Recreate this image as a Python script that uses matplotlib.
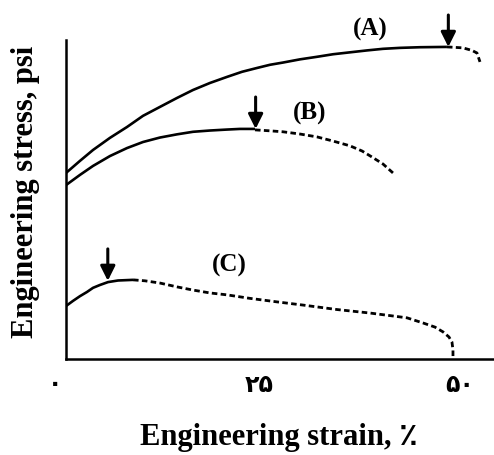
import matplotlib
matplotlib.use('Agg')
from matplotlib import pyplot as plt

# strain (%) / stress (relative units)
a_solid_x = [0, 1.81, 3.49, 5.68, 7.88, 9.95, 12.14, 14.34, 16.41, 18.60, 20.80, 22.74,
             24.68, 26.36, 28.04, 30.23, 32.43, 34.50, 36.69, 38.89, 40.96, 43.15, 45.74, 49.22]
a_solid_y = [58.3, 62.1, 65.5, 69.3, 72.7, 76.2, 79.0, 81.8, 84.3, 86.5, 88.4, 90.0,
             91.2, 92.2, 92.9, 93.9, 94.7, 95.5, 96.1, 96.7, 97.2, 97.5, 97.7, 97.8]
a_dash_x = [49.22, 51.29, 52.45, 53.10, 53.49]
a_dash_y = [97.8, 97.5, 96.7, 95.9, 93.1]

b_solid_x = [0, 1.81, 3.49, 5.68, 7.88, 9.95, 12.14, 14.34, 16.41, 18.60, 20.80, 22.48, 24.42]
b_solid_y = [54.5, 57.7, 60.5, 63.6, 66.1, 68.0, 69.4, 70.4, 71.2, 71.6, 71.9, 72.1, 72.1]
b_dash_x = [24.42, 26.36, 28.04, 30.23, 32.43, 34.50, 36.69, 38.24, 39.53, 40.96, 42.25]
b_dash_y = [71.8, 71.5, 71.2, 70.5, 69.6, 68.3, 66.8, 65.2, 63.3, 61.1, 58.3]

c_solid_x = [0, 0.90, 1.81, 2.71, 3.49, 4.39, 5.43, 6.72, 8.66]
c_solid_y = [16.6, 18.2, 19.7, 21.0, 22.3, 23.2, 24.1, 24.6, 24.8]
c_dash_x = [8.66, 10.21, 12.14, 14.34, 16.41, 18.60, 20.80, 23.77, 27.26, 30.62, 35.01,
            39.28, 41.86, 44.06, 46.12, 47.67, 48.71, 49.48, 49.87, 50.0, 50.0]
c_dash_y = [24.8, 24.5, 23.8, 22.6, 21.6, 20.7, 20.1, 19.0, 17.9, 16.9, 15.5,
            14.4, 13.6, 12.9, 11.3, 10.0, 8.5, 6.9, 5.3, 2.8, 0.3]

# necking onset arrows (x, y of tip)
arrow_x = [49.4, 24.5, 5.4]
arrow_y = [97.8, 72.1, 24.5]

curve_names = ['(A)', '(B)', '(C)']
name_x = [39.3, 31.5, 21.1]
name_y = [103.4, 77.1, 29.2]

tick_vals = [0, 25, 50]
tick_text = ['۰', '۲۵', '۵۰']
tick_shift = [-11, 0, 7]

serif = ['Liberation Serif', 'DejaVu Sans']

fig = plt.figure(figsize=(4.94, 4.55), dpi=100)
ax = fig.add_axes([66 / 494, 96 / 455, 1 - 66 / 494, 359 / 455])
ax.set_xlim(0, 55.3)
ax.set_ylim(0, 112.5)

for sx, sy, dx, dy in [(a_solid_x, a_solid_y, a_dash_x, a_dash_y),
                       (b_solid_x, b_solid_y, b_dash_x, b_dash_y),
                       (c_solid_x, c_solid_y, c_dash_x, c_dash_y)]:
    ax.plot(sx, sy, color='black', lw=1.9, solid_capstyle='butt', solid_joinstyle='round')
    ax.plot(dx, dy, color='black', lw=2.0, linestyle=(0, (2.0, 1.2)))

for x, y in zip(arrow_x, arrow_y):
    ax.annotate('', xy=(x, y), xytext=(x, y + 10),
                arrowprops=dict(arrowstyle='-|>', color='black', lw=2.2,
                                mutation_scale=22, shrinkA=0, shrinkB=0))

for name, x, y in zip(curve_names, name_x, name_y):
    ax.text(x, y, name, ha='center', va='center', fontsize=18,
            fontweight='bold', family=serif)

ax.spines['top'].set_visible(False)
ax.spines['right'].set_visible(False)
ax.spines['left'].set_linewidth(1.8)
ax.spines['bottom'].set_linewidth(1.8)
ax.spines['left'].set_bounds(0, 100)
ax.set_xticks([])
ax.set_yticks([])

for v, t, s in zip(tick_vals, tick_text, tick_shift):
    ax.annotate(t, xy=(v, 0), xycoords=('data', 'axes fraction'),
                xytext=(s, -27), textcoords='offset pixels',
                ha='center', va='center', fontsize=17, fontweight='bold', family=serif)

fig.text(26 / 494, 1 - 192 / 455, 'Engineering stress, psi', rotation=90,
         ha='center', va='center', fontsize=22, fontweight='bold', family=serif)
fig.text(279 / 494, 1 - 437 / 455, 'Engineering strain, ٪',
         ha='center', va='center', fontsize=22, fontweight='bold', family=serif)

fig.savefig('out.png', dpi=100)
